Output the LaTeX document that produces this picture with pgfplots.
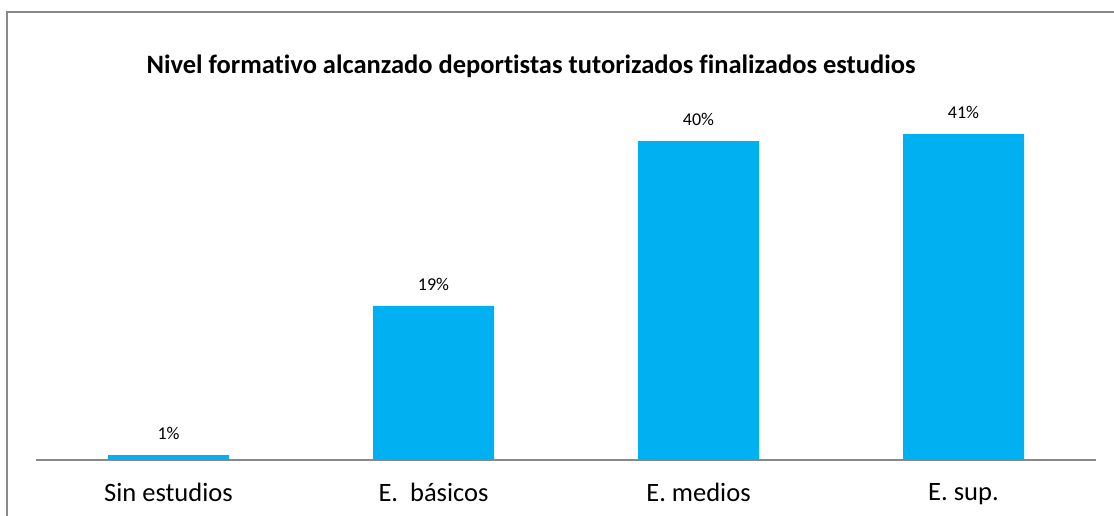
\documentclass[border=0pt]{standalone}
\usepackage{fontspec}
\setmainfont{Carlito}[Ligatures=NoCommon]
\usepackage{pgfplots}
\pgfplotsset{compat=1.18}
\definecolor{barcyan}{HTML}{00B0F0}
\definecolor{framegray}{HTML}{898989}
\begin{document}
\begin{tikzpicture}[x=1pt,y=1pt]
\useasboundingbox (0,0) rectangle (1114,516);
% frame (only left and top edges fall inside the picture)
\draw[framegray, line width=2pt] (7,0) -- (7,504) -- (1114,504);
\node[font=\fontsize{26.5}{30}\selectfont\bfseries] at (531,450) {Nivel formativo alcanzado deportistas tutorizados finalizados estudios};
\begin{axis}[
    at={(36pt,56pt)}, anchor=south west,
    scale only axis,
    width=1060pt, height=397.5pt,
    xmin=-0.5, xmax=3.5,
    ymin=0, ymax=50,
    hide y axis,
    axis x line*=bottom,
    x axis line style={framegray, line width=1.5pt, -},
    xtick=data,
    xticklabels={Sin estudios, E.\ \ básicos, E. medios, E. sup.},
    major tick length=0pt,
    x tick label style={font=\fontsize{26.5}{30}\selectfont, yshift=-20pt},
    ybar, bar width=121pt,
    clip=false,
    point meta=explicit,
    /pgf/number format/assume math mode=true,
    nodes near coords={\pgfmathprintnumber{\pgfplotspointmeta}\%},
    every node near coord/.style={font=\fontsize{18}{20}\selectfont, anchor=south, inner sep=0pt, yshift=15pt},
]
\addplot[fill=barcyan, draw=none] coordinates {
    (0,0.6) [1]
    (1,19.4) [19]
    (2,40.1) [40]
    (3,41.0) [41]
};
\end{axis}
\end{tikzpicture}
\end{document}
